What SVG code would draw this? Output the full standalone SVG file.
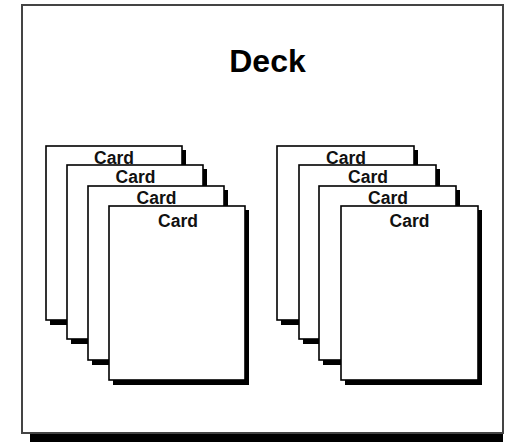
<svg xmlns="http://www.w3.org/2000/svg" width="506" height="442" viewBox="0 0 506 442">
<style>
.shadow{fill:#000}
.card{fill:#fff;stroke:#000;stroke-width:1.6}
.ct{font-family:"Liberation Sans",Arial,sans-serif;font-weight:bold;font-size:17.5px;fill:#111;text-anchor:middle}
.title{font-family:"Liberation Sans",Arial,sans-serif;font-weight:bold;font-size:32px;fill:#000;text-anchor:middle}
</style>
<rect x="0" y="0" width="506" height="442" fill="#fff"/>
<g id="deck">
<rect class="shadow" x="30" y="13" width="473" height="429"/>
<rect x="22" y="5" width="481" height="428" fill="#fff" stroke="#444" stroke-width="2"/>
<text class="title" x="267.5" y="72">Deck</text>
</g>
<g id="card-l1"><rect class="shadow" x="50" y="150" width="136" height="175"/><rect class="card" x="46" y="146" width="136" height="174"/><text class="ct" x="114" y="163.5">Card</text></g>
<g id="card-l2"><rect class="shadow" x="71" y="169" width="136" height="175"/><rect class="card" x="67" y="165" width="136" height="174"/><text class="ct" x="135.5" y="183">Card</text></g>
<g id="card-l3"><rect class="shadow" x="92" y="190" width="136" height="175"/><rect class="card" x="88" y="186" width="136" height="174"/><text class="ct" x="156.5" y="203.5">Card</text></g>
<g id="card-l4"><rect class="shadow" x="113" y="210" width="136" height="175"/><rect class="card" x="109" y="206" width="136" height="174"/><text class="ct" x="178" y="227">Card</text></g>
<g id="card-r1"><rect class="shadow" x="281" y="150" width="137" height="175"/><rect class="card" x="277" y="146" width="137" height="174"/><text class="ct" x="346" y="163.5">Card</text></g>
<g id="card-r2"><rect class="shadow" x="303" y="169" width="137" height="175"/><rect class="card" x="299" y="165" width="137" height="174"/><text class="ct" x="368" y="183">Card</text></g>
<g id="card-r3"><rect class="shadow" x="323" y="190" width="137" height="175"/><rect class="card" x="319" y="186" width="137" height="174"/><text class="ct" x="388" y="203.5">Card</text></g>
<g id="card-r4"><rect class="shadow" x="345" y="210" width="137" height="175"/><rect class="card" x="341" y="206" width="137" height="174"/><text class="ct" x="409.5" y="227">Card</text></g>
<g id="connectors"></g>
</svg>
